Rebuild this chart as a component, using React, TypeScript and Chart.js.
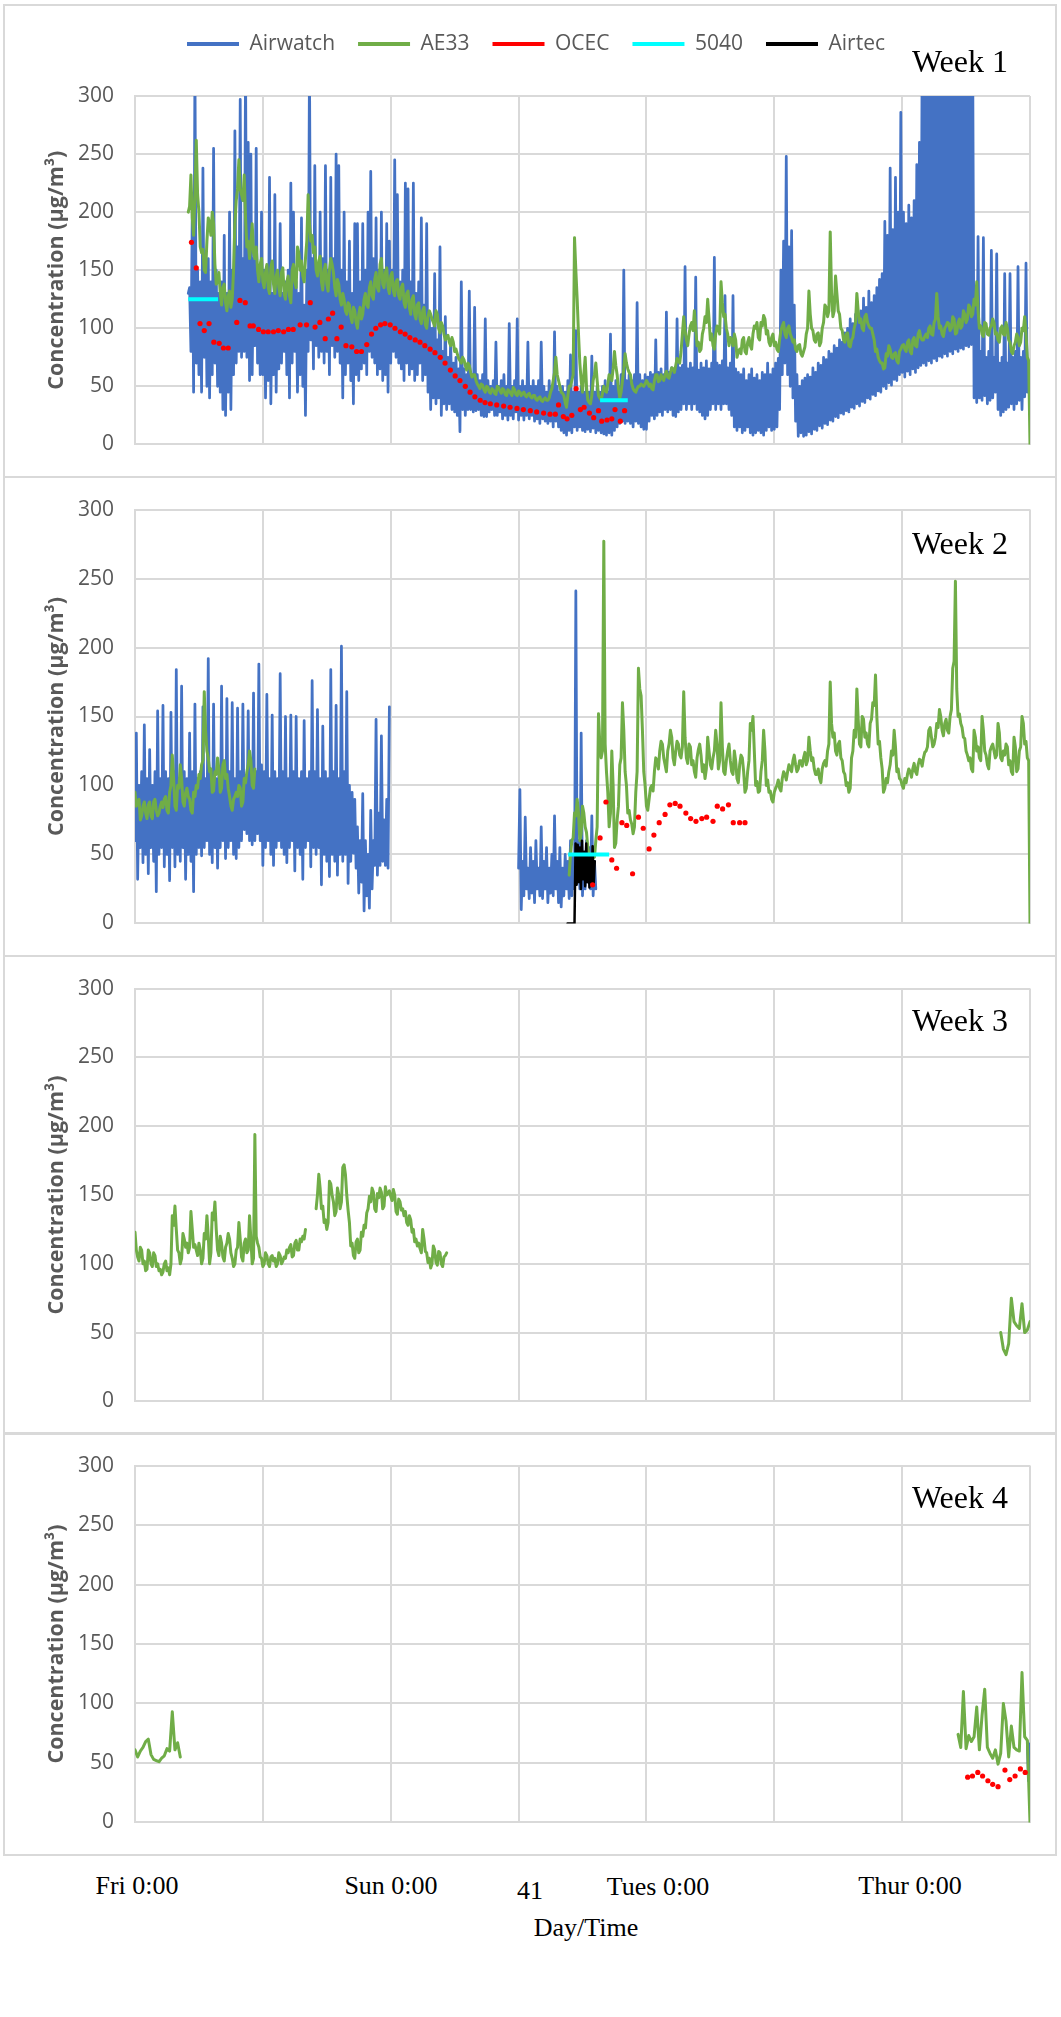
import React, { useEffect, useRef } from 'react';
import { Chart, registerables } from 'chart.js';

Chart.register(...registerables);

// ---------------- labels ----------------
const SERIES = ['Airwatch', 'AE33', 'OCEC', '5040', 'Airtec'];
const WEEK_LABELS = ['Week 1', 'Week 2', 'Week 3', 'Week 4'];
const Y_TITLE = 'Concentration (µg/m³)';
const X_DAY_LABELS = ['Fri 0:00', 'Sun 0:00', 'Tues 0:00', 'Thur 0:00'];
const PAGE_NUMBER = '41';
const X_TITLE = 'Day/Time';
const Y_MIN = 0;
const Y_MAX = 300;
const Y_STEP = 50;
const X_MIN_H = 0; // Fri 0:00
const X_MAX_H = 168; // next Fri 0:00
const X_STEP_H = 24;

// ---------------- data (hours since Fri 0:00, µg/m³) ----------------
// Week 1 Airwatch: troughs read every 0.5 h from 10 h, crests read midway between them
const W1_AIRWATCH_START = 10;
const W1_AIRWATCH_TROUGHS = [
  130, 80, 45, 70, 60, 45, 75, 50, 40, 60, 70, 50, 45, 30, 25, 45, 30, 60, 70, 80, 75, 80, 75, 55, 60, 85, 70, 60,
  60, 40, 55, 35, 60, 45, 65, 70, 80, 60, 40, 70, 80, 45, 60, 50, 25, 80, 90, 65, 85, 75, 80, 70, 80, 60, 85, 75, 80, 70, 40, 60, 70, 55, 35, 60, 55, 65, 70, 60, 80, 75, 70, 60, 65, 55, 60, 45,
  70, 80, 75, 70, 65, 55, 70, 60, 65, 55, 60, 70, 55, 60, 45, 30, 40, 35, 40, 25, 35, 30, 35, 30, 28, 25, 11, 30, 25, 30, 30, 28, 29, 30, 25, 24, 24, 28, 30, 25, 25, 28, 22, 25, 21, 25, 22, 28,
  21, 25, 21, 25, 22, 25, 20, 22, 18, 22, 20, 18, 20, 15, 20, 15, 12, 10, 8, 12, 10, 15, 12, 15, 12, 11, 13, 11, 14, 10, 12, 10, 9, 8, 10, 8, 12, 15, 18, 20, 18, 20, 18, 15, 20, 18, 15, 13,
  13, 20, 25, 22, 25, 28, 25, 30, 28, 30, 25, 24, 28, 30, 35, 30, 35, 30, 35, 30, 28, 25, 22, 25, 30, 35, 30, 35, 30, 35, 35, 30, 25, 15, 12, 15, 10, 12, 15, 10, 8, 10, 12, 10, 8, 12, 15, 12,
  13, 15, 30, 60, 70, 60, 50, 40, 20, 7, 10, 7, 8, 11, 9, 13, 12, 16, 14, 18, 17, 21, 20, 24, 23, 27, 26, 29, 28, 32, 31, 35, 33, 37, 36, 40, 39, 43, 42, 46, 45, 50, 48, 53, 51, 56, 55, 60,
  62, 58, 63, 60, 65, 62, 66, 68, 70, 68, 72, 70, 74, 72, 76, 75, 78, 76, 80, 78, 82, 80, 83, 82, 85, 84, 86, 40, 36, 40, 38, 42, 35, 38, 40, 45, 30, 25, 28, 30, 32, 35, 30, 35, 38, 30, 41, 45, 60,
];
const W1_AIRWATCH_CRESTS = [
  135, 200, 330, 150, 140, 238, 150, 160, 140, 255, 150, 130, 140, 180, 130, 200, 150, 270, 170, 297, 160, 330, 260, 250, 160, 255, 150, 200,
  150, 140, 230, 130, 215, 140, 190, 130, 140, 150, 225, 200, 140, 130, 195, 120, 150, 330, 160, 240, 150, 200, 160, 240, 150, 230, 160, 250, 240, 150, 200, 140, 175, 130, 190, 190, 140, 190, 150, 200, 235, 160, 195, 150, 200, 150, 190, 175,
  150, 245, 215, 140, 150, 225, 220, 140, 225, 130, 140, 195, 120, 190, 110, 100, 147, 90, 170, 80, 110, 75, 90, 70, 75, 65, 140, 65, 60, 132, 60, 118, 60, 55, 60, 108, 55, 50, 55, 88, 50, 55, 60, 50, 104, 50, 55, 108,
  50, 55, 50, 88, 50, 55, 50, 55, 88, 50, 45, 55, 50, 97, 50, 45, 50, 45, 55, 77, 45, 98, 45, 50, 45, 50, 45, 76, 45, 50, 45, 50, 55, 45, 95, 50, 55, 50, 60, 150, 55, 60, 55, 60, 122, 60, 55, 60,
  58, 62, 60, 90, 62, 65, 60, 114, 62, 66, 64, 108, 66, 68, 153, 65, 70, 66, 144, 64, 70, 66, 72, 65, 70, 161, 70, 68, 72, 128, 66, 70, 128, 65, 62, 60, 65, 55, 60, 65, 57, 60, 55, 62, 60, 70, 60, 65,
  70, 74, 150, 175, 248, 170, 184, 120, 60, 50, 55, 57, 60, 58, 66, 62, 70, 68, 75, 73, 80, 78, 85, 83, 90, 88, 96, 100, 108, 104, 112, 110, 115, 126, 118, 132, 122, 128, 135, 142, 147, 192, 180, 238, 185, 230, 200, 286,
  200, 190, 206, 195, 210, 241, 260, 330, 330, 330, 330, 330, 330, 330, 330, 330, 330, 330, 330, 330, 330, 330, 330, 330, 330, 330, 330,
  120, 179, 80, 178, 75, 80, 167, 75, 164, 70, 75, 147, 70, 147, 75, 80, 153, 75, 80, 156, 70,
];
// Week 1 AE33: samples every 0.5 h from 10 h, plus the noisy reading midway between them
const W1_AE33_START = 10;
const W1_AE33 = [
  200, 232, 180, 262, 200, 165, 150, 175, 190, 200, 155, 140, 130, 135, 122, 128, 118, 150, 210, 245, 215, 232, 170, 160, 190, 160, 150, 155, 140,
  148, 135, 152, 138, 145, 135, 148, 130, 140, 128, 150, 140, 170, 150, 145, 160, 215, 175, 165, 150, 158, 140, 150, 138, 150, 155, 135, 142, 125, 130, 115, 122, 110, 118, 105, 112, 108, 125, 120, 135, 128, 142, 135, 155, 138, 148, 135, 145,
  132, 140, 128, 135, 122, 130, 118, 125, 112, 120, 108, 115, 103, 110, 112, 105, 115, 100, 105, 95, 92, 88, 92, 80, 78, 72, 75, 68, 70, 62, 60, 55, 50, 52, 47, 50, 45, 48, 44, 50, 46, 48, 43, 47, 44, 49, 43, 46,
  42, 45, 41, 44, 40, 42, 38, 41, 37, 40, 38, 45, 55, 75, 55, 45, 42, 32, 50, 55, 178, 125, 70, 45, 75, 38, 35, 55, 70, 42, 38, 50, 45, 60, 55, 80, 60, 40, 55, 78, 65, 60, 48, 45, 50, 52, 50, 55,
  50, 48, 55, 60, 55, 57, 60, 58, 62, 65, 68, 72, 80, 110, 90, 95, 105, 115, 85, 80, 95, 110, 125, 90, 85, 95, 100, 140, 110, 100, 85, 90, 95, 75, 82, 90, 80, 88, 85, 95, 100, 92, 105, 111, 95, 88, 92, 85,
  82, 90, 102, 95, 100, 95, 88, 82, 85, 78, 80, 95, 132, 100, 90, 95, 85, 100, 120, 110, 183, 110, 145, 115, 100, 90, 95, 85, 90, 100, 130, 105, 100, 110, 105, 100, 95, 80, 75, 70, 65, 78, 85, 75, 78, 72, 80, 85,
  82, 88, 80, 90, 85, 95, 92, 90, 95, 100, 95, 105, 130, 100, 95, 100, 105, 98, 110, 95, 105, 100, 115, 105, 120, 110, 125, 140, 100, 95, 105, 95, 100, 108, 95, 90, 100, 95, 105, 90, 80, 85, 95, 85, 100, 110, 75, 0,
];
const W1_AE33_MID = [
  205, 195, 215, 215, 170, 168, 148, 195, 180, 190, 138, 148, 120, 138, 115, 132, 125, 190, 220, 220, 210, 195, 175, 172, 165, 170, 140, 160, 135,
  155, 130, 158, 130, 150, 128, 152, 125, 145, 122, 155, 135, 165, 158, 140, 175, 190, 180, 170, 145, 162, 133, 155, 132, 160, 148, 128, 138, 120, 125, 112, 120, 105, 115, 100, 118, 112, 130, 118, 140, 125, 148, 132, 160, 135, 152, 130, 148,
  128, 142, 125, 138, 118, 132, 112, 128, 108, 122, 104, 118, 100, 115, 108, 102, 112, 96, 102, 90, 94, 85, 88, 82, 74, 70, 73, 64, 68, 58, 60, 52, 48, 51, 45, 49, 44, 47, 43, 49, 44, 47, 42, 46, 42, 47, 42, 45,
  44, 42, 43, 41, 42, 39, 40, 38, 39, 38, 40, 48, 62, 60, 50, 44, 36, 42, 50, 60, 150, 95, 55, 60, 50, 36, 42, 60, 55, 40, 44, 46, 52, 58, 65, 68, 48, 45, 65, 70, 62, 52, 46, 48, 50, 51, 52, 53,
  52, 47, 60, 54, 60, 55, 63, 57, 66, 62, 74, 70, 95, 98, 85, 102, 98, 100, 88, 82, 100, 105, 108, 95, 82, 102, 95, 122, 112, 95, 92, 85, 90, 80, 78, 92, 78, 92, 82, 102, 105, 90, 102, 108, 98, 85, 95, 88,
  80, 98, 105, 92, 102, 92, 90, 80, 86, 76, 84, 100, 112, 98, 88, 96, 88, 105, 118, 115, 130, 115, 130, 112, 98, 88, 96, 84, 92, 105, 115, 108, 98, 112, 102, 100, 90, 82, 72, 70, 66, 76, 82, 74, 79, 70, 82, 86,
  80, 90, 78, 92, 84, 98, 90, 93, 92, 102, 94, 108, 110, 102, 93, 102, 104, 100, 108, 96, 108, 102, 112, 108, 118, 112, 120, 115, 102, 93, 104, 94, 102, 105, 96, 88, 102, 94, 100, 88, 78, 88, 92, 88, 98, 95, 72,
];
const W1_OCEC_HOURS = [
  10.6, 11.5, 12.2, 13, 13.9, 14.8, 15.8, 16.6, 17.5, 19.1, 19.7, 20.7, 21.6, 22.2, 23.2, 24.1, 25, 26, 26.9, 27.9, 28.8, 29.7,
  31, 32.2, 32.9, 33.8, 34.7, 35.7, 36.3, 37.1, 37.9, 38.7, 39.6, 40.7, 41.6, 42.5, 43.5, 44.4, 45.2, 46.1, 46.9, 47.9,
  48.8, 49.8, 50.7, 51.6, 52.6, 53.5, 54.4, 55.4, 56.3, 57.3, 58.2, 59.2, 60.1, 61, 62, 62.9, 63.8, 64.8, 65.7, 66.7,
  67.9, 69.2, 70.4, 71.7, 72.9, 74.2, 75.4, 76.7, 77.9, 78.9, 79.5, 80.4, 81.1, 82, 82.8, 83.6, 84.3, 85.3, 86.1, 87,
  87.6, 88.6, 89.5, 90.1, 91.1, 91.9,
];
const W1_OCEC = [
  174, 152, 104, 98, 104, 88, 87, 83, 83, 105, 124, 122, 102, 102, 99, 97, 97, 97, 98, 97, 99, 99,
  103, 103, 122, 101, 105, 91, 108, 113, 91, 101, 85, 84, 80, 80, 86, 95, 100, 103, 104, 103,
  100, 97, 95, 92, 90, 88, 85, 82, 79, 75, 70, 64, 59, 55, 50, 45, 41, 38, 36, 35,
  34, 33, 32, 31, 30, 29, 28, 27, 26, 26, 34, 24, 22, 25, 48, 30, 32, 27, 23, 29,
  20, 21, 22, 30, 20, 29,
];
const W1_5040_A_HOURS = [10, 15.6];
const W1_5040_A = [125, 125];
const W1_5040_B_HOURS = [87.3, 92.5];
const W1_5040_B = [38, 38];

// Week 2
const W2_AIRWATCH_A_START = 0;
const W2_AIRWATCH_A_TROUGHS = [
  60, 32, 55, 44, 50, 36, 55, 45, 23, 50, 55, 41, 50, 31, 55, 41, 50, 45, 55, 32, 50, 45, 23, 50,
  55, 49, 55, 60, 50, 44, 55, 40, 55, 60, 47, 55, 60, 50, 47, 55, 60, 68, 65, 60, 57, 60, 65, 60,
  42, 55, 60, 50, 42, 55, 60, 55, 50, 44, 55, 60, 38, 55, 50, 32, 55, 60, 41, 55, 50, 55, 28, 50,
  45, 34, 50, 45, 35, 50, 45, 50, 29, 45, 51, 40, 22, 30, 9, 20, 11, 25, 42, 35, 42, 45, 42, 40,
];
const W2_AIRWATCH_A_CRESTS = [
  138, 100, 110, 144, 105, 126, 100, 110, 154, 105, 158, 110, 105, 153, 110, 184, 105, 172, 110, 105, 138, 110, 159, 105,
  110, 157, 105, 192, 110, 159, 105, 110, 172, 110, 163, 110, 160, 105, 156, 110, 159, 105, 154, 110, 167, 110, 188, 115,
  110, 166, 105, 151, 110, 105, 181, 110, 150, 105, 151, 110, 150, 105, 110, 147, 105, 110, 176, 110, 155, 105, 143, 110,
  105, 184, 110, 158, 105, 201, 110, 168, 100, 95, 90, 70, 60, 94, 60, 50, 82, 60, 148, 80, 136, 75, 90, 157,
];
const W2_AIRWATCH_B_START = 72;
const W2_AIRWATCH_B_TROUGHS = [40, 10, 20, 25, 18, 22, 15, 25, 20, 18, 25, 15, 22, 20, 25, 15, 12, 20, 25, 18, 20, 25, 30, 25, 20, 25, 30, 25, 20, 25];
const W2_AIRWATCH_B_CRESTS = [97, 45, 77, 40, 55, 45, 60, 40, 70, 45, 55, 40, 50, 78, 45, 55, 40, 50, 45, 60, 50, 241, 60, 138, 50, 60, 55, 78, 45];
const W2_AE33_A_START = 0;
const W2_AE33_A = [
  95, 88, 75, 85, 80, 86, 78, 88, 82, 80, 88, 90, 82, 95, 122, 85, 100, 115, 88, 95,
  92, 82, 95, 100, 108, 115, 168, 125, 110, 95, 110, 120, 95, 115, 105, 98, 85, 90, 95, 100,
  85, 105, 110, 125, 100, 112,
];
const W2_AE33_A_MID = [
  85, 90, 78, 88, 76, 88, 76, 90, 78, 85, 84, 92, 80, 100, 105, 82, 98, 105, 85, 98,
  90, 80, 92, 98, 105, 118, 140, 120, 112, 96, 108, 112, 98, 118, 108, 92, 82, 92, 92, 98,
  88, 102, 115, 118, 98,
];
const W2_AE33_B_START = 81.5;
const W2_AE33_B = [
  35, 60, 80, 90, 60, 85, 70, 55, 40, 50, 60, 152, 120, 277, 110, 70, 125, 55, 75, 115, 160, 110, 80, 75, 65, 95, 185, 165, 110, 85,
  90, 100, 110, 118, 125, 130, 115, 125, 140, 120, 125, 130, 120, 168, 120, 130, 115, 110, 120, 130, 110, 105, 135, 115, 120, 140, 112, 160, 110, 118, 130, 110, 125, 105, 115, 120, 95, 110, 145, 150, 100, 95, 110, 140, 100, 95, 90, 95,
  100, 98, 105, 108, 110, 112, 118, 115, 112, 118, 120, 115, 135, 118, 112, 108, 105, 112, 118, 125, 175, 135, 125, 130, 120, 110, 100, 95, 120, 140, 170, 130, 150, 135, 130, 145, 160, 180, 130, 120, 95, 105, 110, 125, 140, 110, 105, 100,
  105, 108, 110, 112, 110, 115, 118, 120, 125, 140, 135, 130, 145, 155, 140, 145, 140, 150, 185, 248, 150, 145, 135, 125, 118, 112, 140, 125, 120, 150, 125, 115, 125, 130, 120, 145, 120, 125, 130, 115, 110, 135, 110, 125, 150, 130, 120, 0,
];
const W2_AE33_B_MID = [
  50, 62, 78, 80, 65, 80, 66, 50, 42, 48, 70, 130, 125, 130, 95, 80, 100, 58, 85, 120, 140, 100, 82, 72, 70, 110, 170, 140, 100, 82,
  98, 96, 120, 112, 132, 120, 110, 130, 135, 115, 132, 122, 128, 135, 116, 128, 118, 106, 126, 122, 115, 112, 125, 112, 125, 130, 118, 128, 108, 125, 118, 108, 118, 102, 122, 110, 98, 118, 140, 125, 103, 96, 118, 125, 104, 96, 88, 98,
  104, 96, 110, 104, 115, 110, 122, 110, 118, 114, 124, 118, 125, 120, 108, 112, 102, 116, 114, 130, 145, 138, 122, 132, 118, 108, 102, 98, 125, 135, 148, 128, 148, 138, 128, 148, 158, 150, 132, 112, 98, 102, 115, 122, 128, 112, 104, 98,
  102, 112, 106, 116, 108, 119, 114, 124, 128, 142, 128, 135, 142, 150, 136, 148, 138, 155, 190, 170, 152, 142, 134, 122, 120, 110, 135, 128, 118, 140, 122, 112, 128, 125, 122, 138, 118, 122, 128, 118, 108, 128, 112, 128, 145, 132, 118,
];
const W2_OCEC_HOURS = [85.9, 87.3, 88.4, 89.5, 90.4, 91.4, 92.3, 93.4, 94.5, 95.4, 96.5, 97.4, 98.4, 99.5, 100.4, 101.4, 102.3, 103.4, 104.3, 105.3, 106.4, 107.3, 108.5, 109.3, 110.3, 111.4, 112.3, 113.5, 114.5];
const W2_OCEC = [28, 62, 88, 46, 40, 73, 71, 36, 77, 69, 54, 64, 73, 79, 86, 87, 85, 80, 76, 74, 76, 77, 74, 85, 83, 86, 73, 73, 73];
const W2_5040_HOURS = [81.3, 89];
const W2_5040 = [50, 50];
const W2_AIRTEC_HOURS = [81.2, 82.5, 82.7, 82.9, 83.1, 83.3, 83.5, 83.7, 83.9, 84.1, 84.3, 84.5, 84.7, 84.9, 85.1, 85.3, 85.5, 85.7, 85.9, 86.1, 86.3];
const W2_AIRTEC = [0, 0, 58, 28, 57, 30, 55, 25, 60, 32, 52, 27, 58, 30, 48, 26, 50, 30, 56, 28, 45];

// Week 3
const W3_AE33_A_START = 0;
const W3_AE33_A = [
  123, 105, 112, 100, 95, 110, 100, 108, 98, 95, 92, 100, 95, 92, 135, 142, 110, 100, 122, 112,
  108, 138, 112, 110, 115, 100, 122, 135, 100, 137, 145, 110, 120, 105, 112, 122, 108, 98, 110, 130,
  105, 115, 108, 135, 100, 194, 115, 105, 98, 108, 100, 105, 102, 98, 108, 100, 105, 110, 112, 105,
  115, 110, 118, 120, 125,
];
const W3_AE33_A_MID = [
  110, 102, 110, 102, 96, 108, 98, 106, 100, 96, 94, 102, 97, 100, 128, 125, 108, 104, 118, 115,
  112, 125, 114, 106, 110, 104, 118, 120, 108, 132, 125, 106, 115, 102, 115, 118, 104, 100, 112, 118,
  102, 118, 110, 118, 104, 120, 112, 104, 100, 106, 98, 106, 104, 100, 106, 102, 104, 108, 114, 106,
  117, 110, 116, 118,
];
const W3_AE33_B_START = 34;
const W3_AE33_B = [
  140, 165, 140, 130, 125, 160, 150, 135, 155, 140, 170, 165, 139, 113, 106, 116, 108, 123, 128, 137,
  149, 155, 140, 151, 155, 140, 156, 151, 149, 154, 138, 147, 139, 135, 130, 135, 123, 116, 113, 111,
  125, 109, 101, 97, 113, 101, 109, 100, 105, 108,
];
const W3_AE33_B_MID = [
  150, 155, 142, 132, 130, 158, 145, 138, 150, 145, 172, 150, 130, 115, 104, 118, 110, 120, 126, 140,
  145, 152, 138, 148, 152, 142, 150, 153, 146, 150, 136, 145, 140, 138, 128, 132, 125, 118, 115, 108,
  118, 108, 104, 100, 110, 99, 108, 98, 106,
];
const W3_AE33_C_START = 162.5;
const W3_AE33_C = [50, 38, 34, 42, 75, 58, 55, 53, 71, 50, 52, 58];

// Week 4
const W4_AE33_A_START = 0;
const W4_AE33_A = [61, 55, 60, 63, 68, 70, 57, 53, 52, 51, 54, 56, 62, 60, 93, 61, 67, 55];
const W4_AE33_B_START = 154.5;
const W4_AE33_B = [74, 63, 110, 62, 73, 68, 72, 97, 61, 90, 112, 63, 58, 54, 61, 49, 58, 100, 85, 55, 81, 63, 61, 60, 126, 72, 69, 0];
const W4_AIRWATCH_HOURS = [167.5, 167.7, 167.85, 168];
const W4_AIRWATCH = [68, 35, 66, 32];
const W4_OCEC_HOURS = [156.3, 157.2, 158.2, 159.1, 160.1, 161, 162, 163.3, 164.2, 165.2, 166.2, 167.1];
const W4_OCEC = [38, 39, 42, 39, 35, 32, 30, 44, 36, 39, 45, 42];

// ---------------- styles ----------------
const COLORS: Record<string, string> = {
  Airwatch: '#4472C4',
  AE33: '#70AD47',
  OCEC: '#FF0000',
  '5040': '#00FFFF',
  Airtec: '#000000',
};
const DRAW_ORDER: Record<string, number> = { Airwatch: 5, AE33: 4, Airtec: 3, OCEC: 2, '5040': 1 };
const LINE_WIDTH: Record<string, number> = { Airwatch: 2.75, AE33: 3, '5040': 4, Airtec: 2.5 };
const GRID = '#D9D9D9';
const TEXT_GRAY = '#595959';
const SANS = '"Open Sans", "Segoe UI", "Liberation Sans", sans-serif';
const SERIF = '"Liberation Serif", "Times New Roman", serif';
Chart.defaults.font.family = SANS;

type Pt = { x: number; y: number | null };
const seq = (start: number, step: number, values: number[]): Pt[] => values.map((y, i) => ({ x: start + i * step, y }));
const pairs = (hours: number[], values: number[]): Pt[] => hours.map((x, i) => ({ x, y: values[i] }));
// samples at start + i*step, with the readings taken halfway between consecutive samples
const withMid = (start: number, step: number, samples: number[], mids: number[]): Pt[] => {
  const out: Pt[] = [];
  samples.forEach((v, i) => {
    out.push({ x: start + i * step, y: v });
    if (i < mids.length) out.push({ x: start + i * step + step / 2, y: mids[i] });
  });
  return out;
};
const join = (...segs: Pt[][]): Pt[] => {
  const out: Pt[] = [];
  segs.forEach((s, k) => {
    if (k > 0 && out.length && s.length) out.push({ x: (out[out.length - 1].x + s[0].x) / 2, y: null });
    out.push(...s);
  });
  return out;
};

function makeDatasets(d: Record<string, Pt[]>) {
  return SERIES.map((name) => {
    const base: any = {
      label: name,
      data: d[name] || [],
      borderColor: COLORS[name],
      backgroundColor: COLORS[name],
      order: DRAW_ORDER[name],
      tension: 0,
      spanGaps: false,
      fill: false,
      pointHoverRadius: 0,
    };
    if (name === 'OCEC') {
      return { ...base, showLine: false, pointRadius: 2.6, pointBorderWidth: 0, pointStyle: 'circle' };
    }
    return {
      ...base,
      pointRadius: 0,
      borderWidth: LINE_WIDTH[name],
      borderJoinStyle: 'round',
      borderCapStyle: name === '5040' ? 'butt' : 'round',
    };
  });
}

const WEEK_DATA: Record<string, Pt[]>[] = [
  {
    Airwatch: withMid(W1_AIRWATCH_START, 0.5, W1_AIRWATCH_TROUGHS, W1_AIRWATCH_CRESTS),
    AE33: withMid(W1_AE33_START, 0.5, W1_AE33, W1_AE33_MID),
    OCEC: pairs(W1_OCEC_HOURS, W1_OCEC),
    '5040': join(pairs(W1_5040_A_HOURS, W1_5040_A), pairs(W1_5040_B_HOURS, W1_5040_B)),
  },
  {
    Airwatch: join(
      withMid(W2_AIRWATCH_A_START, 0.5, W2_AIRWATCH_A_TROUGHS, W2_AIRWATCH_A_CRESTS),
      withMid(W2_AIRWATCH_B_START, 0.5, W2_AIRWATCH_B_TROUGHS, W2_AIRWATCH_B_CRESTS),
    ),
    AE33: join(withMid(W2_AE33_A_START, 0.5, W2_AE33_A, W2_AE33_A_MID), withMid(W2_AE33_B_START, 0.5, W2_AE33_B, W2_AE33_B_MID)),
    OCEC: pairs(W2_OCEC_HOURS, W2_OCEC),
    '5040': pairs(W2_5040_HOURS, W2_5040),
    Airtec: pairs(W2_AIRTEC_HOURS, W2_AIRTEC),
  },
  {
    AE33: join(
      withMid(W3_AE33_A_START, 0.5, W3_AE33_A, W3_AE33_A_MID),
      withMid(W3_AE33_B_START, 0.5, W3_AE33_B, W3_AE33_B_MID),
      seq(W3_AE33_C_START, 0.5, W3_AE33_C),
    ),
  },
  {
    Airwatch: pairs(W4_AIRWATCH_HOURS, W4_AIRWATCH),
    AE33: join(seq(W4_AE33_A_START, 0.5, W4_AE33_A), seq(W4_AE33_B_START, 0.5, W4_AE33_B)),
    OCEC: pairs(W4_OCEC_HOURS, W4_OCEC),
  },
];

// ---------------- layout (page pixels) ----------------
const PAGE_W = 1061;
const PANELS = [
  { top: 4, height: 474, pad: { top: 6.5, bottom: 26 }, legend: true, labelDy: -24.3 },
  { top: 476, height: 481, pad: { top: 31, bottom: 29 }, legend: false, labelDy: 44.7 },
  { top: 955, height: 480, pad: { top: 33, bottom: 26 }, legend: false, labelDy: 42.7 },
  { top: 1432, height: 424, pad: { top: 27, bottom: 28 }, legend: false, labelDy: 42 },
];

const weekLabelPlugin = {
  id: 'weekLabel',
  afterDraw(chart: any, _args: any, opts: any) {
    const { ctx, chartArea } = chart;
    ctx.save();
    ctx.font = `32px ${SERIF}`;
    ctx.fillStyle = '#000';
    ctx.textAlign = 'right';
    ctx.textBaseline = 'alphabetic';
    ctx.fillText(opts.text, chartArea.right - 22, chartArea.top + opts.dy);
    ctx.restore();
  },
};

function buildConfig(i: number): any {
  const p = PANELS[i];
  return {
    type: 'line',
    data: { datasets: makeDatasets(WEEK_DATA[i]) },
    plugins: [weekLabelPlugin],
    options: {
      animation: false,
      responsive: false,
      devicePixelRatio: 1,
      events: [],
      layout: { padding: { left: 42, right: 31, top: p.pad.top, bottom: p.pad.bottom } },
      plugins: {
        tooltip: { enabled: false },
        weekLabel: { text: WEEK_LABELS[i], dy: p.labelDy },
        legend: {
          display: p.legend,
          position: 'top',
          align: 'center',
          weight: 3000,
          labels: {
            boxWidth: 52,
            boxHeight: 4,
            padding: 23,
            color: TEXT_GRAY,
            font: { family: SANS, size: 21 },
            sort: (a: any, b: any) => a.datasetIndex - b.datasetIndex,
            generateLabels: (chart: any) =>
              Chart.defaults.plugins.legend.labels
                .generateLabels(chart)
                .map((it: any) => ({ ...it, fillStyle: it.strokeStyle, lineWidth: 0 })),
          },
        },
        title: {
          display: p.legend,
          text: '',
          font: { size: 10 },
          padding: { top: 19.5, bottom: 0 },
        },
      },
      scales: {
        x: {
          type: 'linear',
          min: X_MIN_H,
          max: X_MAX_H,
          ticks: { stepSize: X_STEP_H, display: false },
          grid: { color: GRID, lineWidth: 2, drawTicks: false },
          border: { color: GRID, width: 2 },
          afterFit: (s: any) => {
            s.height = 0;
          },
        },
        y: {
          min: Y_MIN,
          max: Y_MAX,
          ticks: { stepSize: Y_STEP, padding: 21, color: TEXT_GRAY, font: { family: SANS, size: 21 } },
          grid: { color: GRID, lineWidth: 2, drawTicks: false },
          border: { color: GRID, width: 2 },
          title: {
            display: true,
            text: Y_TITLE,
            color: TEXT_GRAY,
            font: { family: SANS, size: 21.5, weight: 'bold' },
            padding: { top: 2, bottom: 0 },
          },
          afterFit: (s: any) => {
            s.width = 93;
          },
        },
      },
    },
  };
}

function WeekChart({ index }: { index: number }) {
  const ref = useRef<HTMLCanvasElement | null>(null);
  const p = PANELS[index];
  useEffect(() => {
    if (!ref.current) return;
    const chart = new Chart(ref.current, buildConfig(index));
    return () => chart.destroy();
  }, [index]);
  return (
    <canvas
      ref={ref}
      width={PAGE_W}
      height={p.height}
      style={{ position: 'absolute', left: 0, top: p.top, width: PAGE_W, height: p.height }}
    />
  );
}

const BOTTOM_TEXTS = [
  { text: X_DAY_LABELS[0], cx: 137, top: 1873 },
  { text: X_DAY_LABELS[1], cx: 391, top: 1873 },
  { text: PAGE_NUMBER, cx: 530, top: 1878 },
  { text: X_DAY_LABELS[2], cx: 658, top: 1874 },
  { text: X_DAY_LABELS[3], cx: 910, top: 1873 },
  { text: X_TITLE, cx: 586, top: 1915 },
];

export default function App() {
  return (
    <div style={{ position: 'absolute', left: 0, top: 0, width: PAGE_W, height: 2017, background: '#fff', overflow: 'hidden' }}>
      {PANELS.map((p, i) => (
        <div
          key={'panel' + i}
          style={{
            position: 'absolute',
            left: 3,
            top: p.top,
            width: 1054,
            height: p.height,
            border: `2px solid ${GRID}`,
            boxSizing: 'border-box',
          }}
        />
      ))}
      {PANELS.map((_, i) => (
        <WeekChart key={'chart' + i} index={i} />
      ))}
      {BOTTOM_TEXTS.map((t, i) => (
        <div
          key={'t' + i}
          style={{
            position: 'absolute',
            left: t.cx,
            top: t.top,
            transform: 'translateX(-50%)',
            fontFamily: SERIF,
            fontSize: 26,
            lineHeight: '26px',
            whiteSpace: 'nowrap',
            color: '#000',
          }}
        >
          {t.text}
        </div>
      ))}
    </div>
  );
}
